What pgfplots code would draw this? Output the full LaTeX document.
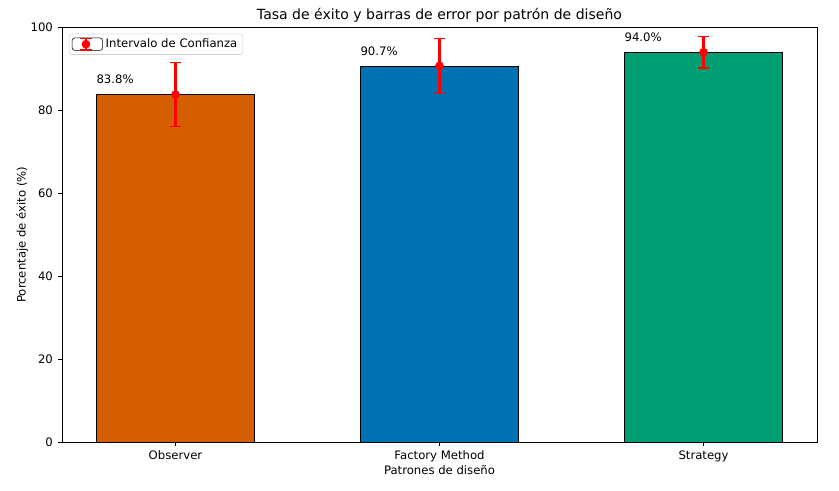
\documentclass[border=0pt]{standalone}
\usepackage{fontspec}
\setmainfont{DejaVu Sans}
\usepackage{pgfplots}
\pgfplotsset{compat=1.18}
\definecolor{cOrange}{HTML}{D55E00}
\definecolor{cBlue}{HTML}{0072B2}
\definecolor{cGreen}{HTML}{009E73}
\begin{document}
\begin{tikzpicture}
\begin{axis}[
  scale only axis,
  width=543.6pt, height=298.5pt,
  xmin=-0.43, xmax=2.43,
  ymin=0, ymax=100,
  xtick={0,1,2},
  xticklabels={Observer,Factory Method,Strategy},
  ytick={0,20,40,60,80,100},
  tick align=outside,
  tick pos=left,
  major tick length=3pt,
  tick style={black, line width=0.6pt},
  axis line style={line width=0.6pt},
  /pgf/number format/assume math mode=true,
  tick label style={font=\fontsize{8.4}{10}\selectfont},
  label style={font=\fontsize{8.4}{10}\selectfont},
  title style={font=\fontsize{10.1}{12}\selectfont, yshift=-5.8pt},
  title={Tasa de éxito y barras de error por patrón de diseño},
  xlabel={Patrones de diseño},
  ylabel={Porcentaje de éxito (\%)},
  xlabel shift=-5pt,
  ylabel shift=-5pt,
  legend style={at={(0.009,0.985)}, anchor=north west, draw=black!18, rounded corners=2pt, font=\fontsize{8.4}{10}\selectfont, inner xsep=2pt, inner ysep=1.5pt},
  legend cell align=left,
]
\addplot[ybar, bar width=0.6, bar shift=0pt, fill=cOrange, draw=black, line width=0.6pt, forget plot] coordinates {(0,83.8)};
\addplot[ybar, bar width=0.6, bar shift=0pt, fill=cBlue, draw=black, line width=0.6pt, forget plot] coordinates {(1,90.7)};
\addplot[ybar, bar width=0.6, bar shift=0pt, fill=cGreen, draw=black, line width=0.6pt, forget plot] coordinates {(2,94.0)};
% whiskers: mean +- error
\addplot[red, line width=1.6pt, forget plot] coordinates {(0,76.0) (0,91.6)};
\addplot[red, line width=1.6pt, forget plot] coordinates {(1,84.1) (1,97.3)};
\addplot[red, line width=1.6pt, forget plot] coordinates {(2,90.2) (2,97.8)};
% caps
\addplot[red, line width=0.8pt, forget plot] coordinates {(-0.021,76.0) (0.021,76.0)};
\addplot[red, line width=0.8pt, forget plot] coordinates {(-0.021,91.6) (0.021,91.6)};
\addplot[red, line width=0.8pt, forget plot] coordinates {(0.979,84.1) (1.021,84.1)};
\addplot[red, line width=0.8pt, forget plot] coordinates {(0.979,97.3) (1.021,97.3)};
\addplot[red, line width=0.8pt, forget plot] coordinates {(1.979,90.2) (2.021,90.2)};
\addplot[red, line width=0.8pt, forget plot] coordinates {(1.979,97.8) (2.021,97.8)};
\addplot[red, only marks, mark=*, mark size=2.9pt, forget plot]
  coordinates {(0,83.8) (1,90.7) (2,94.0)};
\addlegendimage{legend image code/.code={
  \path (0pt,-4.5pt) rectangle (22pt,4.5pt);
  \draw[red, line width=1.6pt] (10pt,-4.2pt) -- (10pt,4.2pt);
  \draw[red, line width=0.8pt] (6pt,-4.2pt) -- (14pt,-4.2pt) (6pt,4.2pt) -- (14pt,4.2pt);
  \fill[red] (10pt,0pt) circle (2.9pt);
}}
\addlegendentry{Intervalo de Confianza}
\node[anchor=base west, inner sep=0pt, font=\fontsize{8.4}{10}\selectfont] at (axis cs:-0.3,86.4) {83.8\%};
\node[anchor=base west, inner sep=0pt, font=\fontsize{8.4}{10}\selectfont] at (axis cs:0.7,93.3) {90.7\%};
\node[anchor=base west, inner sep=0pt, font=\fontsize{8.4}{10}\selectfont] at (axis cs:1.7,96.6) {94.0\%};
\end{axis}
\path (current axis.south west) ++(-44.6pt,-34.6pt) coordinate (bbA);
\path (current axis.north east) ++(15.8pt,19.7pt) coordinate (bbB);
\path (bbA) rectangle (bbB);
\end{tikzpicture}
\end{document}
